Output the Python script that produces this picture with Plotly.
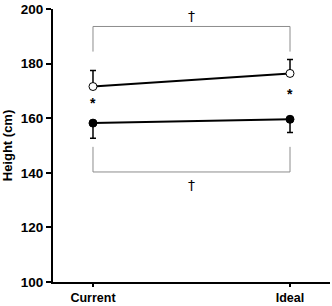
import plotly.graph_objects as go

categories = ["Current", "Ideal"]
x_pos = [0, 1]
open_values = [171.6, 176.4]
open_err_up = [5.9, 5.1]
filled_values = [158.2, 159.6]
filled_err_down = [5.5, 4.8]
y_ticks = [100, 120, 140, 160, 180, 200]

top_bracket = {"y": 193.6, "end": 184.4, "label_y": 197.5}
bottom_bracket = {"y": 140.3, "end": 149.5, "label_y": 135.5}
asterisk_y = [165.4, 168.7]

fig = go.Figure()

fig.add_trace(go.Scatter(
    x=x_pos, y=open_values, mode="lines+markers",
    line=dict(color="black", width=2),
    marker=dict(symbol="circle", size=8, color="white", line=dict(color="black", width=1)),
    error_y=dict(type="data", symmetric=False, array=open_err_up, arrayminus=[0, 0],
                 color="black", thickness=1.5, width=3),
    showlegend=False,
))
fig.add_trace(go.Scatter(
    x=x_pos, y=filled_values, mode="lines+markers",
    line=dict(color="black", width=2),
    marker=dict(symbol="circle", size=8, color="black", line=dict(color="black", width=1)),
    error_y=dict(type="data", symmetric=False, array=[0, 0], arrayminus=filled_err_down,
                 color="black", thickness=1.5, width=3),
    showlegend=False,
))

gray = "#8c8c8c"
for b in (top_bracket, bottom_bracket):
    fig.add_shape(type="path",
                  path=f"M {x_pos[0]} {b['end']} L {x_pos[0]} {b['y']} L {x_pos[1]} {b['y']} L {x_pos[1]} {b['end']}",
                  xref="x", yref="y", line=dict(color=gray, width=1))
    fig.add_annotation(x=(x_pos[0] + x_pos[1]) / 2, y=b["label_y"], text="†", showarrow=False,
                       font=dict(family="DejaVu Sans", size=14, color="#000000"))

for xi, yi in zip(x_pos, asterisk_y):
    fig.add_annotation(x=xi, y=yi, text="<b>*</b>", showarrow=False,
                       font=dict(family="Liberation Sans, Arial", size=14, color="#000000"))

fig.update_layout(
    width=332, height=306,
    margin=dict(l=53, r=2, t=9, b=24, autoexpand=False),
    plot_bgcolor="white", paper_bgcolor="white",
    font=dict(family="Liberation Sans, Arial", size=12, color="#000000"),
)
fig.update_xaxes(
    range=[-0.203, 1.203], tickvals=x_pos, ticktext=[f"<b>{c}</b>" for c in categories],
    showline=True, linecolor="black", linewidth=2, ticks="outside", ticklen=3,
    tickwidth=1.5, tickcolor="black", showgrid=False, zeroline=False,
    tickfont=dict(size=12.5), automargin=False,
)
fig.update_yaxes(
    range=[100, 200], tickvals=y_ticks, ticktext=[f"<b>{t}</b>" for t in y_ticks],
    showline=True, linecolor="black", linewidth=2, ticks="outside", ticklen=5,
    tickwidth=1.5, tickcolor="black", showgrid=False, zeroline=False,
    tickfont=dict(size=13.5), automargin=False,
    title=dict(text="<b>Height (cm)</b>", font=dict(size=13), standoff=6),
)

fig.write_html(
    "out.html",
    config={"displayModeBar": False},
    post_script="document.body.style.margin='0';document.body.style.overflow='hidden';",
)
